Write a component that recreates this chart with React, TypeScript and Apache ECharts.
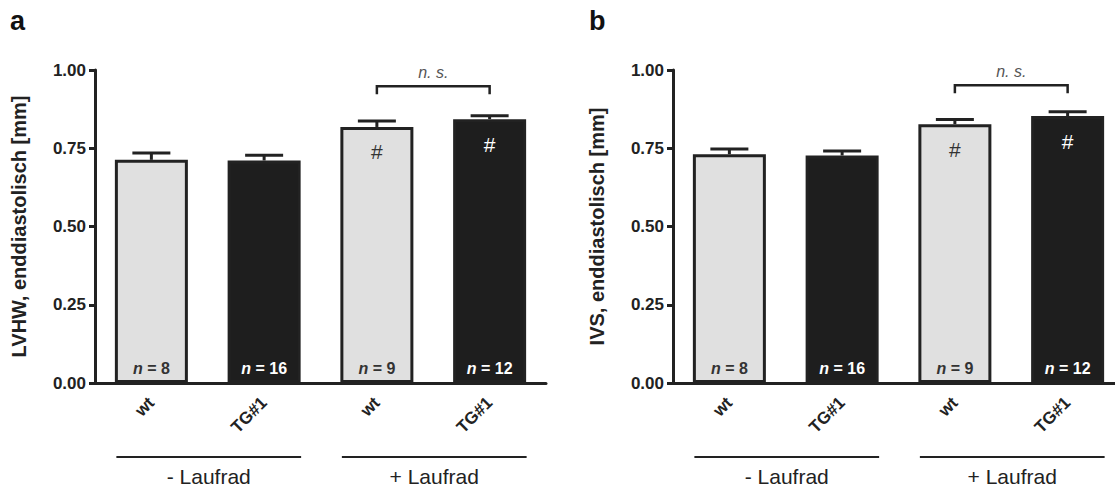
import React, { useEffect, useRef } from "react";
import * as echarts from "echarts";

const categories = ["wt", "TG#1", "wt", "TG#1"];
const lvhwMeans = [0.713, 0.711, 0.818, 0.843];
const lvhwErr = [0.022, 0.017, 0.019, 0.011];
const ivsMeans = [0.731, 0.727, 0.827, 0.853];
const ivsErr = [0.017, 0.014, 0.015, 0.014];
const nCounts = [8, 16, 9, 12];
const hashMarks = [false, false, true, true];
const groupLabels = ["- Laufrad", "+ Laufrad"];
const groupRanges = [
  [0, 1],
  [2, 3],
];
const bracketPairs = [[2, 3]];
const bracketLabel = "n. s.";
const bracketLevelA = 0.948;
const bracketLevelB = 0.951;
const yTicks = [0, 0.25, 0.5, 0.75, 1.0];
const panelLetters = ["a", "b"];
const yNames = ["LVHW, enddiastolisch [mm]", "IVS, enddiastolisch [mm]"];

const FONT = "'Liberation Sans', Arial, Helvetica, sans-serif";
const DARK = "#1e1e1e";
const LIGHT = "#e0e0e0";
const AXIS = "#222";

function barColor(i: number) {
  return i % 2 === 0 ? LIGHT : DARK;
}
function textColor(i: number) {
  return i % 2 === 0 ? "#333" : "#fff";
}

function panelSeries(panel: number, means: number[], errs: number[], level: number) {
  const barData = means.map((v, i) => ({
    value: v,
    itemStyle: { color: barColor(i), borderColor: AXIS, borderWidth: 3 },
    label: { color: textColor(i) },
  }));
  return [
    {
      type: "bar",
      xAxisIndex: panel,
      yAxisIndex: panel,
      data: barData,
      barWidth: 73,
      label: {
        show: true,
        position: "insideBottom",
        distance: 7,
        fontFamily: FONT,
        fontSize: 16,
        fontWeight: "bold",
        formatter: (p: any) => `{i|n} = ${nCounts[p.dataIndex]}`,
        rich: {
          i: { fontStyle: "italic", fontWeight: "bold", fontSize: 16, fontFamily: FONT },
        },
      },
    },
    {
      type: "custom",
      xAxisIndex: panel,
      yAxisIndex: panel,
      data: means.map((m, i) => [i, m, errs[i]]),
      encode: { x: 0, y: 1 },
      z: 5,
      renderItem: (params: any, api: any) => {
        const idx = api.value(0);
        const m = api.value(1);
        const e = api.value(2);
        const base = api.coord([idx, m]);
        const top = api.coord([idx, m + e]);
        const children: any[] = [
          {
            type: "line",
            shape: { x1: base[0], y1: base[1], x2: top[0], y2: top[1] },
            style: { stroke: AXIS, lineWidth: 3 },
          },
          {
            type: "line",
            shape: { x1: top[0] - 19, y1: top[1], x2: top[0] + 19, y2: top[1] },
            style: { stroke: AXIS, lineWidth: 3 },
          },
        ];
        if (hashMarks[params.dataIndex]) {
          children.push({
            type: "text",
            style: {
              text: "#",
              x: base[0],
              y: base[1] + 25,
              fill: textColor(params.dataIndex),
              fontSize: 21,
              fontFamily: FONT,
              align: "center",
              verticalAlign: "middle",
            },
          });
        }
        return { type: "group", children };
      },
    },
    {
      type: "custom",
      xAxisIndex: panel,
      yAxisIndex: panel,
      data: bracketPairs.map((p) => [p[0], p[1], level]),
      encode: { x: [0, 1], y: 2 },
      z: 5,
      renderItem: (params: any, api: any) => {
        const p1 = api.coord([api.value(0), api.value(2)]);
        const p2 = api.coord([api.value(1), api.value(2)]);
        return {
          type: "group",
          children: [
            {
              type: "polyline",
              shape: {
                points: [
                  [p1[0], p1[1] + 8],
                  [p1[0], p1[1]],
                  [p2[0], p2[1]],
                  [p2[0], p2[1] + 8],
                ],
              },
              style: { stroke: AXIS, lineWidth: 2.5, fill: "none" },
            },
            {
              type: "text",
              style: {
                text: bracketLabel,
                x: (p1[0] + p2[0]) / 2,
                y: p1[1] - 14,
                fill: "#555",
                fontSize: 16,
                fontStyle: "italic",
                fontFamily: FONT,
                align: "center",
                verticalAlign: "middle",
              },
            },
          ],
        };
      },
    },
    {
      type: "custom",
      xAxisIndex: panel,
      yAxisIndex: panel,
      data: groupRanges.map((r) => [r[0], r[1], 0]),
      encode: { x: [0, 1], y: 2 },
      clip: false,
      z: 5,
      renderItem: (params: any, api: any) => {
        const a = api.coord([api.value(0), 0]);
        const b = api.coord([api.value(1), 0]);
        const x1 = a[0] - 35;
        const x2 = b[0] + 37;
        return {
          type: "group",
          children: [
            {
              type: "line",
              shape: { x1, y1: a[1] + 74, x2, y2: a[1] + 74 },
              style: { stroke: AXIS, lineWidth: 2 },
            },
            {
              type: "text",
              style: {
                text: groupLabels[params.dataIndex],
                x: (x1 + x2) / 2,
                y: a[1] + 93,
                fill: "#222",
                fontSize: 21,
                fontFamily: FONT,
                align: "center",
                verticalAlign: "middle",
              },
            },
          ],
        };
      },
    },
  ];
}

function xAxisDef(gridIndex: number) {
  return {
    type: "category",
    gridIndex,
    data: categories,
    axisLine: { lineStyle: { color: AXIS, width: 3 } },
    axisTick: { alignWithLabel: true, length: 7, lineStyle: { color: AXIS, width: 3 } },
    axisLabel: {
      rotate: 45,
      margin: 17,
      interval: 0,
      color: "#222",
      fontFamily: FONT,
      fontSize: 17,
      fontWeight: "bold",
    },
  };
}

function yAxisDef(gridIndex: number) {
  return {
    type: "value",
    gridIndex,
    min: yTicks[0],
    max: yTicks[yTicks.length - 1],
    interval: yTicks[1] - yTicks[0],
    name: yNames[gridIndex],
    nameLocation: "middle",
    nameGap: 66,
    nameTextStyle: { color: "#222", fontFamily: FONT, fontSize: 20, fontWeight: "bold" },
    axisLine: { show: true, lineStyle: { color: AXIS, width: 3 } },
    axisTick: { show: true, length: 6, lineStyle: { color: AXIS, width: 3 } },
    splitLine: { show: false },
    axisLabel: {
      margin: 9,
      color: "#222",
      fontFamily: FONT,
      fontSize: 17,
      fontWeight: "bold",
      formatter: (v: number) => v.toFixed(2),
    },
  };
}

export default function App() {
  const ref = useRef<HTMLDivElement>(null);
  useEffect(() => {
    if (!ref.current) return;
    const chart = echarts.init(ref.current, null, { renderer: "svg" });
    chart.setOption({
      animation: false,
      backgroundColor: "#fff",
      title: [
        {
          text: panelLetters[0],
          left: 5,
          top: 2,
          textStyle: { fontFamily: FONT, fontSize: 27, fontWeight: "bold", color: "#111" },
        },
        {
          text: panelLetters[1],
          left: 584,
          top: 2,
          textStyle: { fontFamily: FONT, fontSize: 27, fontWeight: "bold", color: "#111" },
        },
      ],
      grid: [
        { left: 95, top: 70, width: 451, height: 313, outerBoundsMode: "none" },
        { left: 673, top: 70, width: 451, height: 313, outerBoundsMode: "none" },
      ],
      xAxis: [xAxisDef(0), xAxisDef(1)],
      yAxis: [yAxisDef(0), yAxisDef(1)],
      series: [
        ...panelSeries(0, lvhwMeans, lvhwErr, bracketLevelA),
        ...panelSeries(1, ivsMeans, ivsErr, bracketLevelB),
      ],
    });
    return () => chart.dispose();
  }, []);
  return (
    <div
      ref={ref}
      style={{ position: "fixed", left: 0, top: 0, width: 1115, height: 490, background: "#fff" }}
    />
  );
}
